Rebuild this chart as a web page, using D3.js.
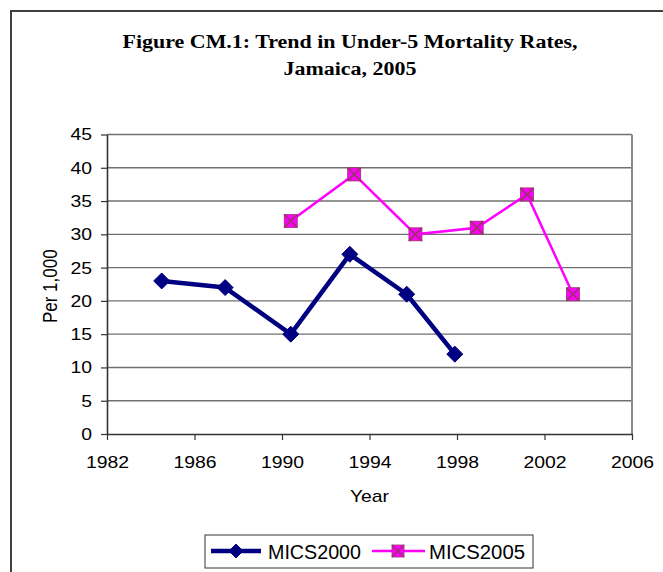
<!DOCTYPE html>
<html><head><meta charset="utf-8">
<script src="https://cdn.jsdelivr.net/npm/d3@7"></script>
<style>body{margin:0;background:#fff}svg{display:block}</style>
</head><body>
<svg id="c" width="663" height="572"></svg>
<script>
const yearsA = [1984.5, 1987.4, 1990.4, 1993.1, 1995.7, 1997.9];
const valuesA = [23, 22, 15, 27, 21, 12];
const yearsB = [1990.4, 1993.3, 1996.1, 1998.9, 2001.2, 2003.3];
const valuesB = [32, 39, 30, 31, 36, 21];
const xTicks = [1982, 1986, 1990, 1994, 1998, 2002, 2006];
const yTicks = [0, 5, 10, 15, 20, 25, 30, 35, 40, 45];
const seriesNames = ["MICS2000", "MICS2005"];
const titleLines = ["Figure CM.1: Trend in Under-5 Mortality Rates,", "Jamaica, 2005"];

const svg = d3.select("#c");
const L = 107, R = 632, T = 134.5, B = 434;
const x = d3.scaleLinear().domain([1982, 2006]).range([L, R]);
const y = d3.scaleLinear().domain([0, 45]).range([B, T]);
const SX = 1.14;
function stretch(sel, f) {
  sel.each(function () {
    const w = this.getComputedTextLength();
    d3.select(this).attr("textLength", w * f).attr("lengthAdjust", "spacingAndGlyphs");
  });
}

// outer frame
svg.append("path").attr("d", `M11,572 L11,11 L663,11`).attr("fill", "none").attr("stroke", "#404040").attr("stroke-width", 2);

// title
const tt = svg.selectAll("text.title").data(titleLines).enter().append("text")
  .attr("x", 350).attr("y", (d, i) => 48 + i * 27)
  .attr("text-anchor", "middle").attr("font-family", "Liberation Serif, serif")
  .attr("font-weight", "bold").attr("font-size", 18).attr("fill", "#000").text(d => d);
stretch(tt, 1.22);

// gridlines
svg.append("g").selectAll("line").data(yTicks.filter(d => d > 0)).enter().append("line")
  .attr("x1", L).attr("x2", R).attr("y1", d => y(d)).attr("y2", d => y(d))
  .attr("stroke", "#707070").attr("stroke-width", 1.4);
// right border
svg.append("line").attr("x1", R).attr("x2", R).attr("y1", T).attr("y2", B).attr("stroke", "#8a8a8a").attr("stroke-width", 2);

// axes
const fontS = "Liberation Sans, Arial, sans-serif";
const yAxis = svg.append("g").attr("transform", `translate(${L},0)`)
  .call(d3.axisLeft(y).tickValues(yTicks).tickSize(6).tickSizeOuter(0).tickPadding(9));
const xAxis = svg.append("g").attr("transform", `translate(0,${B})`)
  .call(d3.axisBottom(x).tickValues(xTicks).tickFormat(d3.format("d")).tickSize(6).tickSizeOuter(0).tickPadding(16));
[yAxis, xAxis].forEach(a => {
  a.selectAll("path.domain").attr("stroke", "#333").attr("stroke-width", 1.6);
  a.selectAll("line").attr("stroke", "#333").attr("stroke-width", 1.2);
  a.selectAll("text").attr("font-family", fontS).attr("font-size", 17).attr("fill", "#000");
  stretch(a.selectAll("text"), SX);
});

// axis titles
const xt = svg.append("text").attr("x", x(1994)).attr("y", 502).attr("text-anchor", "middle")
  .attr("font-family", fontS).attr("font-size", 17).text("Year");
stretch(xt, SX);
svg.append("text").attr("transform", `translate(57,${y(22.2)}) rotate(-90) scale(1,${SX})`).attr("text-anchor", "middle")
  .attr("font-family", fontS).attr("font-size", 17).text("Per 1,000");

const dataA = yearsA.map((d, i) => [d, valuesA[i]]);
const dataB = yearsB.map((d, i) => [d, valuesB[i]]);
const line = d3.line().x(d => x(d[0])).y(d => y(d[1]));

const navy = "#000080", mag = "#FF00FF", xcol = "#993366";
function diamond(g, cx, cy, s) {
  g.append("path").attr("d", `M${cx},${cy - s} L${cx + s},${cy} L${cx},${cy + s} L${cx - s},${cy} Z`)
    .attr("fill", navy).attr("stroke", navy).attr("stroke-width", 1);
}
function squareX(g, cx, cy, s) {
  g.append("rect").attr("x", cx - s).attr("y", cy - s).attr("width", 2 * s).attr("height", 2 * s)
    .attr("fill", mag).attr("stroke", xcol).attr("stroke-width", 0.8);
  g.append("path").attr("d", `M${cx - s},${cy - s} L${cx + s},${cy + s} M${cx + s},${cy - s} L${cx - s},${cy + s}`)
    .attr("stroke", xcol).attr("stroke-width", 1.6);
}

svg.append("path").datum(dataB).attr("d", line).attr("fill", "none").attr("stroke", mag).attr("stroke-width", 2.5);
const gB = svg.append("g");
dataB.forEach(d => squareX(gB, x(d[0]), y(d[1]), 6.5));

svg.append("path").datum(dataA).attr("d", line).attr("fill", "none").attr("stroke", navy).attr("stroke-width", 4.5).attr("stroke-linejoin", "round");
const gA = svg.append("g");
dataA.forEach(d => diamond(gA, x(d[0]), y(d[1]), 8));

// legend
const lg = svg.append("g");
lg.append("rect").attr("x", 205).attr("y", 535).attr("width", 328).attr("height", 33)
  .attr("fill", "#fff").attr("stroke", "#333").attr("stroke-width", 1);
lg.append("line").attr("x1", 211).attr("x2", 261).attr("y1", 551).attr("y2", 551).attr("stroke", navy).attr("stroke-width", 4.5);
diamond(lg, 236, 551, 7);
lg.append("text").attr("x", 268).attr("y", 559).attr("font-family", fontS).attr("font-size", 20)
  .attr("textLength", 93).attr("lengthAdjust", "spacingAndGlyphs").text(seriesNames[0]);
lg.append("line").attr("x1", 372).attr("x2", 425).attr("y1", 551).attr("y2", 551).attr("stroke", mag).attr("stroke-width", 2.5);
squareX(lg, 398, 551, 6);
lg.append("text").attr("x", 429).attr("y", 559).attr("font-family", fontS).attr("font-size", 20)
  .attr("textLength", 96).attr("lengthAdjust", "spacingAndGlyphs").text(seriesNames[1]);
</script>
</body></html>
